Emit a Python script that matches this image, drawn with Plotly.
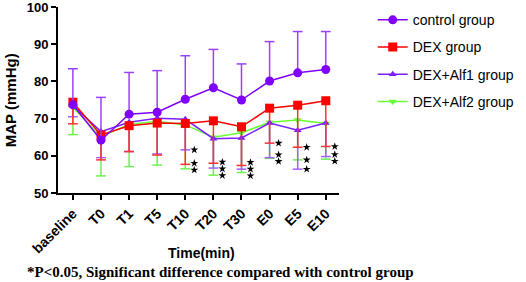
import plotly.graph_objects as go

categories = ["baseline", "T0", "T1", "T5", "T10", "T20", "T30", "E0", "E5", "E10"]

control_mean = [73.7, 64.2, 71.2, 71.7, 75.2, 78.3, 75.0, 80.1, 82.3, 83.2]
control_upper = [83.4, 75.7, 82.4, 82.9, 86.9, 88.6, 84.7, 90.7, 93.4, 93.4]

dex_mean = [74.4, 65.6, 68.1, 68.8, 68.7, 69.4, 67.8, 72.8, 73.6, 74.8]
dex_lower = [68.6, 58.9, 61.1, 60.2, 57.7, 58.0, 57.4, 63.4, 62.3, 62.5]

alf1_mean = [73.5, 66.5, 69.0, 70.1, 69.8, 64.6, 64.8, 68.8, 66.9, 68.8]
alf1_lower = [70.5, 59.5, 61.2, 60.5, 61.6, 56.7, 56.4, 59.5, 56.4, 59.8]

alf2_mean = [73.0, 65.2, 68.4, 69.3, 68.3, 65.0, 66.2, 69.0, 69.6, 68.7]
alf2_lower = [65.7, 54.6, 57.1, 57.5, 56.5, 54.8, 55.5, 59.3, 58.9, 59.1]

# significance vs control (1 = *)
sig_dex = [0, 0, 0, 0, 1, 1, 1, 1, 1, 1]
sig_alf1 = [0, 0, 0, 0, 1, 1, 1, 1, 1, 1]
sig_alf2 = [0, 0, 0, 0, 1, 1, 1, 1, 1, 1]

x = list(range(len(categories)))

C_CTRL = "#8000FF"
C_CTRL_ERR = "#9A40FF"
C_DEX = "#FF0000"
C_DEX_ERR = "#FF3030"
C_ALF1 = "#7A1FFF"
C_ALF1_ERR = "#A060FF"
C_ALF2 = "#66FF33"
C_ALF2_ERR = "#70F050"

fig = go.Figure()


def add_group(name, rank, mean, bound, color, errcolor, symbol, size, upper):
    diff = [abs(b - m) for b, m in zip(bound, mean)]
    zeros = [0] * len(mean)
    err = dict(type="data", symmetric=False, width=0, thickness=1.5, color=errcolor,
               array=diff if upper else zeros, arrayminus=zeros if upper else diff)
    # cap marks at the bar ends
    fig.add_trace(go.Scatter(x=x, y=bound, mode="markers", showlegend=False, hoverinfo="skip",
                             marker=dict(symbol="line-ew", size=7, color=errcolor,
                                         line=dict(color=errcolor, width=1.5))))
    fig.add_trace(go.Scatter(x=x, y=mean, mode="lines+markers", name=name, legendgroup=name,
                             legendrank=rank,
                             line=dict(color=color, width=1.5), error_y=err,
                             marker=dict(symbol=symbol, size=size, color=color)))


add_group("DEX+Alf2 group", 4, alf2_mean, alf2_lower, C_ALF2, C_ALF2_ERR, "triangle-down", 7, False)
add_group("DEX+Alf1 group", 3, alf1_mean, alf1_lower, C_ALF1, C_ALF1_ERR, "triangle-up", 7, False)
add_group("DEX group", 2, dex_mean, dex_lower, C_DEX, C_DEX_ERR, "square", 9, False)
add_group("control group", 1, control_mean, control_upper, C_CTRL, C_CTRL_ERR, "circle", 9, True)

# significance stars next to the lower caps, nudged apart so they don't overlap
star_x, star_y = [], []
min_gap = 1.8
for i in x:
    ys = []
    for sig, low in ((sig_dex, dex_lower), (sig_alf1, alf1_lower), (sig_alf2, alf2_lower)):
        if sig[i]:
            ys.append(low[i])
    ys.sort(reverse=True)
    for _ in range(20):
        moved = False
        for k in range(len(ys) - 1):
            gap = ys[k] - ys[k + 1]
            if gap < min_gap:
                d = (min_gap - gap) / 2
                ys[k] += d
                ys[k + 1] -= d
                moved = True
        if not moved:
            break
    for yv in ys:
        star_x.append(i + 0.32)
        star_y.append(yv)

fig.add_trace(go.Scatter(x=star_x, y=star_y, mode="markers", showlegend=False, hoverinfo="skip",
                         marker=dict(symbol="star", size=6, color="black")))

axis_font = dict(family="Liberation Sans, Arial", size=13, color="black", weight="bold")

fig.update_layout(
    width=526, height=282,
    margin=dict(l=58, r=187, t=7, b=89, autoexpand=False),
    paper_bgcolor="white", plot_bgcolor="white",
    showlegend=True,
    legend=dict(x=1.12, y=1.015, xanchor="left", yanchor="top",
                traceorder="grouped", tracegroupgap=6,
                font=dict(family="Liberation Sans, Arial", size=14, color="black"),
                bgcolor="rgba(0,0,0,0)"),
    xaxis=dict(range=[-0.53, 9.47], tickmode="array", tickvals=x, ticktext=categories,
               tickangle=-45, showline=True, linecolor="black", linewidth=2,
               ticks="outside", ticklen=5, tickwidth=2, tickcolor="black",
               showgrid=False, zeroline=False, tickfont=dict(axis_font, size=14)),
    yaxis=dict(range=[50, 100], dtick=10, showline=True, linecolor="black", linewidth=2,
               ticks="outside", ticklen=5, tickwidth=2, tickcolor="black",
               ticklabeloverflow="allow",
               showgrid=False, zeroline=False, tickfont=axis_font),
    annotations=[
        dict(text="<b>MAP (mmHg)</b>", xref="paper", yref="paper", x=-0.17, y=0.5,
             xanchor="center", yanchor="middle", textangle=-90, showarrow=False,
             font=dict(family="Liberation Sans, Arial", size=15, color="black")),
        dict(text="<b>Time(min)</b>", xref="paper", yref="paper", x=0.51, y=-0.32,
             xanchor="center", yanchor="middle", showarrow=False,
             font=dict(family="Liberation Sans, Arial", size=14, color="black")),
        dict(text="<b>*P<0.05, Significant difference compared with control group</b>",
             xref="paper", yref="paper", x=-0.118, y=-0.425, xanchor="left", yanchor="middle",
             showarrow=False,
             font=dict(family="Liberation Serif, Times New Roman", size=15, color="black")),
    ],
)

fig.write_html("out.html", config={"displayModeBar": False},
               post_script="document.body.style.margin='0';")
